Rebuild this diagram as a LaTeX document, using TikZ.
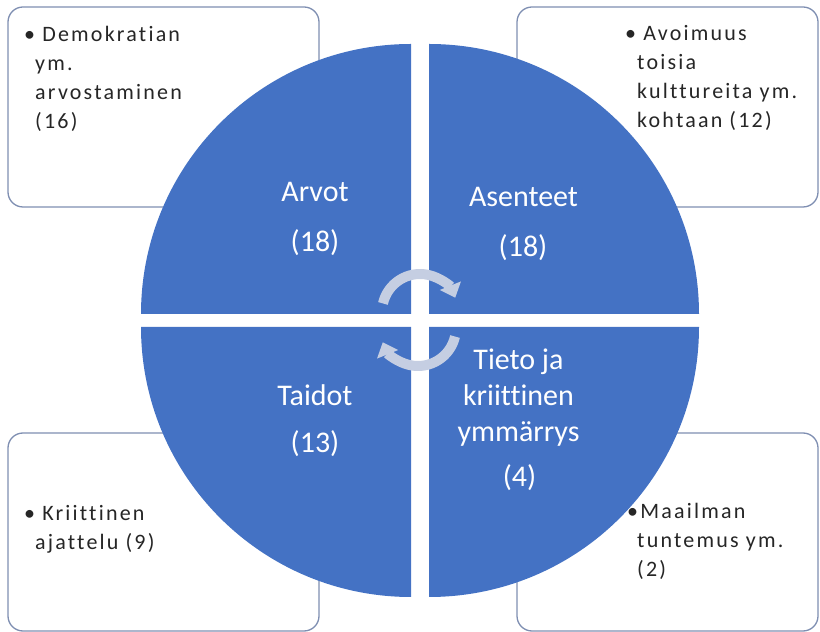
\documentclass[tikz,border=0pt]{standalone}
\usepackage{fontspec}
\setmainfont{Carlito}[Ligatures=NoCommon]
\newfontfamily\boxfont[LetterSpace=10,Ligatures=NoCommon]{Carlito}
\usetikzlibrary{calc, arrows.meta, positioning}

\definecolor{quadblue}{RGB}{68,114,196}
\definecolor{boxline}{RGB}{127,143,178}
\definecolor{cyclegray}{RGB}{197,206,226}

\begin{document}
\begin{tikzpicture}[x=1pt, y=1pt]
    \tikzset{
      infobox/.style={
        rectangle,
        draw=boxline,
        line width=1.3pt,
        rounded corners=15pt,
        fill=white,
      },
      quad/.style={
        fill=quadblue,
      },
      qlbl/.style={
        text=white,
        font=\fontsize{30}{36}\selectfont,
        inner sep=0pt,
        anchor=base,
      },
      blt/.style={
        font=\boxfont\fontsize{22}{29}\selectfont,
        text=black!85,
        align=left,
        inner sep=0pt,
        anchor=base west, % last line
      },
      cyc/.style={
        draw=cyclegray,
        line width=10pt,
        -{Triangle[width=22pt,length=13pt]},
      }
    }

    \pgfmathsetmacro{\R}{270}
    \pgfmathsetmacro{\gx}{9}
    \pgfmathsetmacro{\gy}{6.5}
    \pgfmathsetmacro{\rc}{38}

    \useasboundingbox (0,0) rectangle (820,632);

    % boxes behind the circle
    \node[infobox, minimum width=311pt, minimum height=200pt] (bxArvot)   at (163.5,525) {};
    \node[infobox, minimum width=301pt, minimum height=200pt] (bxAsenteet) at (667.5,525) {};
    \node[infobox, minimum width=311pt, minimum height=198pt] (bxTaidot)  at (163.5,100) {};
    \node[infobox, minimum width=301pt, minimum height=198pt] (bxTieto)   at (667.5,100) {};

    % four quarters
    \coordinate (c) at (420,311.5);
    \fill[quad] ($(c)+(-\gx,\gy)$)  -- ++(-\R,0) arc[start angle=180, end angle=90,  radius=\R pt] -- cycle;
    \fill[quad] ($(c)+(\gx,\gy)$)   -- ++(0,\R)  arc[start angle=90,  end angle=0,   radius=\R pt] -- cycle;
    \fill[quad] ($(c)+(\gx,-\gy)$)  -- ++(\R,0)  arc[start angle=0,   end angle=-90, radius=\R pt] -- cycle;
    \fill[quad] ($(c)+(-\gx,-\gy)$) -- ++(0,-\R) arc[start angle=270, end angle=180, radius=\R pt] -- cycle;

    % cycle arrows
    \coordinate (cycTop) at (420,320);
    \coordinate (cycBot) at (418,304);
    \draw[cyc] ($(cycTop)+(167:\rc)$) arc[start angle=167, end angle=22,   radius=\rc pt];
    \draw[cyc] ($(cycBot)+(-13:\rc)$) arc[start angle=-13, end angle=-158, radius=\rc pt];

    \node[qlbl] (qArvot)    at (315,430)   {Arvot};
    \node[qlbl] (nArvot)    at (315,380)   {(18)};
    \node[qlbl] (qAsenteet) at (523.5,425) {Asenteet};
    \node[qlbl] (nAsenteet) at (523,375)   {(18)};
    \node[qlbl] (qTaidot)   at (315,226)   {Taidot};
    \node[qlbl] (nTaidot)   at (315,179)   {(13)};
    \node[qlbl] (qTieto)    at (518.5,262) {Tieto ja};
    \node[qlbl] (qKriit)    at (518.5,226) {kriittinen};
    \node[qlbl] (qYmm)      at (518.5,190) {ymmärrys};
    \node[qlbl] (nTieto)    at (519.5,145) {(4)};

    \node[blt] (tArvot) at (24,503)
        {•\ Demokratian\\\hspace*{11pt}ym.\\\hspace*{11pt}arvostaminen\\\hspace*{11pt}(16)};
    \node[blt] (tAsenteet) at (625,504)
        {•\ Avoimuus\\\hspace*{12pt}toisia\\\hspace*{12pt}kulttureita ym.\\\hspace*{12pt}kohtaan (12)};
    \node[blt] (tTaidot) at (24,82)
        {•\ Kriittinen\\\hspace*{11pt}ajattelu (9)};
    \node[blt] (tTieto) at (627,55)
        {•Maailman\\\hspace*{10pt}tuntemus ym.\\\hspace*{10pt}(2)};
\end{tikzpicture}
\end{document}
